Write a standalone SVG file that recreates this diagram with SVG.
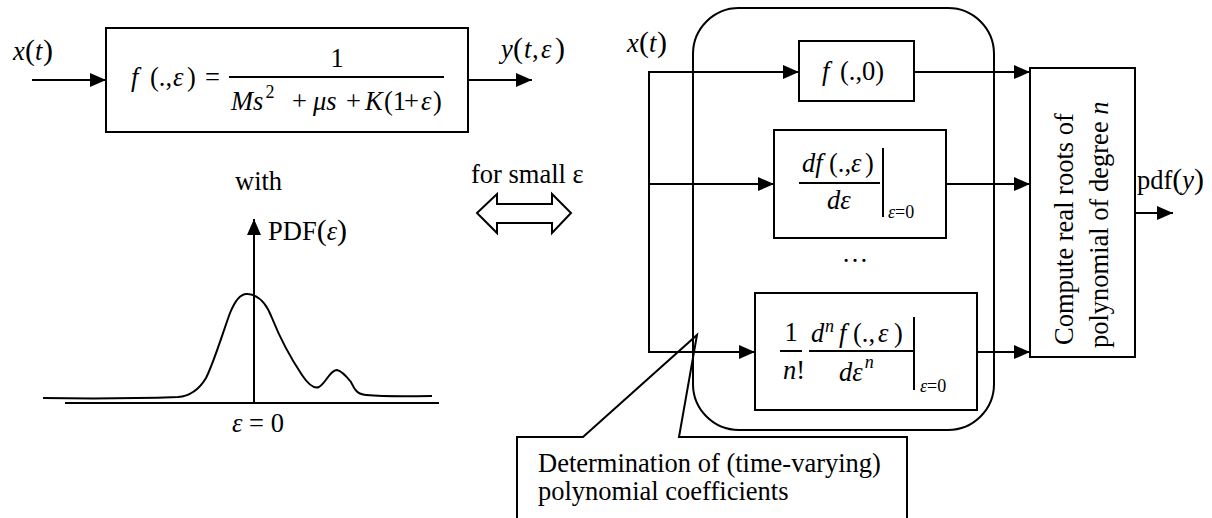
<svg xmlns="http://www.w3.org/2000/svg" width="1212" height="518" viewBox="0 0 1212 518">
<style>
text{font-family:"Liberation Serif","Times New Roman",serif;font-size:26.5px;fill:#000}
.i{font-style:italic}
.s{font-size:18px}
.p{font-size:30px}
.box{fill:none;stroke:#000;stroke-width:2}
.ln{fill:none;stroke:#000;stroke-width:2}
.arr{fill:none;stroke:#000;stroke-width:2;marker-end:url(#ah)}
</style>
<defs>
<marker id="ah" markerUnits="userSpaceOnUse" markerWidth="16" markerHeight="14" refX="16" refY="7" orient="auto"><path d="M0,0 L16,7 L0,14 z" fill="#000"/></marker>
</defs>

<g id="input-label">
<text x="13" y="60"><tspan class="i">x</tspan><tspan class="p" x="25">(</tspan><tspan class="i" x="35">t</tspan><tspan class="p" x="43">)</tspan></text>
</g>

<g id="plant">
<rect class="box" x="106" y="28" width="362" height="104"/>
<text x="131" y="86"><tspan class="i">f</tspan><tspan x="150">(.,</tspan><tspan class="i" x="173">ε</tspan><tspan x="187">)</tspan><tspan x="205">=</tspan></text>
<text x="337" y="67" text-anchor="middle">1</text>
<line class="ln" x1="229" y1="77" x2="444" y2="77"/>
<text y="110"><tspan class="i" x="231">Ms</tspan><tspan class="s" dx="2" dy="-12">2</tspan><tspan x="292" dy="12">+</tspan><tspan class="i" x="313">μs</tspan><tspan x="346">+</tspan><tspan class="i" x="365">K</tspan><tspan x="384">(1</tspan><tspan x="404">+</tspan><tspan class="i" x="421">ε</tspan><tspan x="433">)</tspan></text>
</g>

<g id="output-label">
<text x="501" y="58"><tspan class="i">y</tspan><tspan class="p" x="513">(</tspan><tspan class="i" x="524">t</tspan><tspan x="532">,</tspan><tspan class="i" x="541">ε</tspan><tspan class="p" x="555">)</tspan></text>
</g>

<g id="with-label"><text x="235" y="190">with</text></g>

<g id="pdf-plot">
<line class="ln" x1="65" y1="403" x2="439" y2="403"/>
<line class="arr" x1="254" y1="403" x2="254" y2="219"/>
<path class="ln" d="M43,398 C100,399 150,398 178,397 C192,396 200,388 206,378 C214,362 222,335 230,313 C236,298 242,293 248,294 C258,295 266,302 272,318 C280,338 292,360 302,375 C308,384 314,389 319,387 C326,383 330,370 337,370 C342,371 347,377 351,382 C354,388 356,394 366,395 C390,397 410,396 432,396"/>
<text x="268" y="240">PDF<tspan class="p">(</tspan><tspan class="i">ε</tspan><tspan class="p">)</tspan></text>
<text x="232" y="432"><tspan class="i">ε</tspan> = 0</text>
</g>

<g id="equivalence">
<text x="471" y="183">for small ε</text>
<polygon class="box" points="477,213 497,194 497,204 552,204 552,194 571,213 552,233 552,223 497,223 497,233"/>
</g>

<g id="expansion-group">
<rect class="box" x="693" y="8" width="301" height="422" rx="46" ry="46"/>
</g>

<g id="x-label-right">
<text x="627" y="52"><tspan class="i">x</tspan><tspan class="p" x="639">(</tspan><tspan class="i" x="649">t</tspan><tspan class="p" x="657">)</tspan></text>
</g>

<g id="term0">
<rect class="box" x="799" y="41" width="115" height="60"/>
<text x="822" y="80"><tspan class="i">f</tspan><tspan x="840">(.,0)</tspan></text>
</g>

<g id="term1">
<rect class="box" x="774" y="130" width="172" height="108"/>
<text y="172"><tspan class="i" x="802">df</tspan><tspan x="829">(.,</tspan><tspan class="i" x="851">ε</tspan><tspan x="865">)</tspan></text>
<line class="ln" x1="799" y1="183" x2="880" y2="183"/>
<text class="i" x="827" y="209">dε</text>
<line class="ln" x1="883" y1="148" x2="883" y2="217"/>
<text class="s" x="888" y="218"><tspan class="i">ε</tspan>=0</text>
</g>

<g id="ellipsis"><text x="855" y="262" text-anchor="middle">…</text></g>

<g id="termn">
<rect class="box" x="755" y="293" width="222" height="117"/>
<text x="791" y="341" text-anchor="middle">1</text>
<line class="ln" x1="780" y1="351" x2="802" y2="351"/>
<text y="379"><tspan class="i" x="783">n</tspan>!</text>
<text y="342"><tspan class="i" x="811">d</tspan><tspan class="i s" x="825" dy="-10">n</tspan><tspan class="i" x="839" dy="10">f</tspan><tspan x="853">(.,</tspan><tspan class="i" x="878">ε</tspan><tspan x="894">)</tspan></text>
<line class="ln" x1="809" y1="351" x2="913" y2="351"/>
<text y="381"><tspan class="i" x="839">dε</tspan><tspan class="i s" dx="2" dy="-13">n</tspan></text>
<line class="ln" x1="914" y1="317" x2="914" y2="390"/>
<text class="s" x="920" y="392"><tspan class="i">ε</tspan>=0</text>
</g>

<g id="roots">
<rect class="box" x="1030" y="68" width="105" height="289"/>
<text transform="translate(1073,345) rotate(-90)">Compute real roots of</text>
<text transform="translate(1108,348) rotate(-90)">polynomial of degree <tspan class="i">n</tspan></text>
</g>

<g id="output-pdf">
<text x="1137" y="189">pdf<tspan class="p">(</tspan><tspan class="i">y</tspan><tspan class="p">)</tspan></text>
</g>

<g id="callout">
<path class="box" d="M517,520 L517,437 L583,437 L697,335 L679,437 L907,437 L907,520"/>
<text x="538" y="472">Determination of (time-varying)</text>
<text x="538" y="500">polynomial coefficients</text>
</g>

<g id="connectors">
<line class="arr" x1="32" y1="80" x2="106" y2="80"/>
<line class="arr" x1="468" y1="80" x2="532" y2="80"/>
<polyline class="arr" points="649,352 649,72 799,72"/>
<polyline class="arr" points="649,184 774,184"/>
<polyline class="arr" points="649,184 649,352 755,352"/>
<line class="arr" x1="914" y1="72" x2="1030" y2="72"/>
<line class="arr" x1="946" y1="184" x2="1030" y2="184"/>
<line class="arr" x1="977" y1="352" x2="1030" y2="352"/>
<line class="arr" x1="1135" y1="213" x2="1173" y2="213"/>
</g>
</svg>
